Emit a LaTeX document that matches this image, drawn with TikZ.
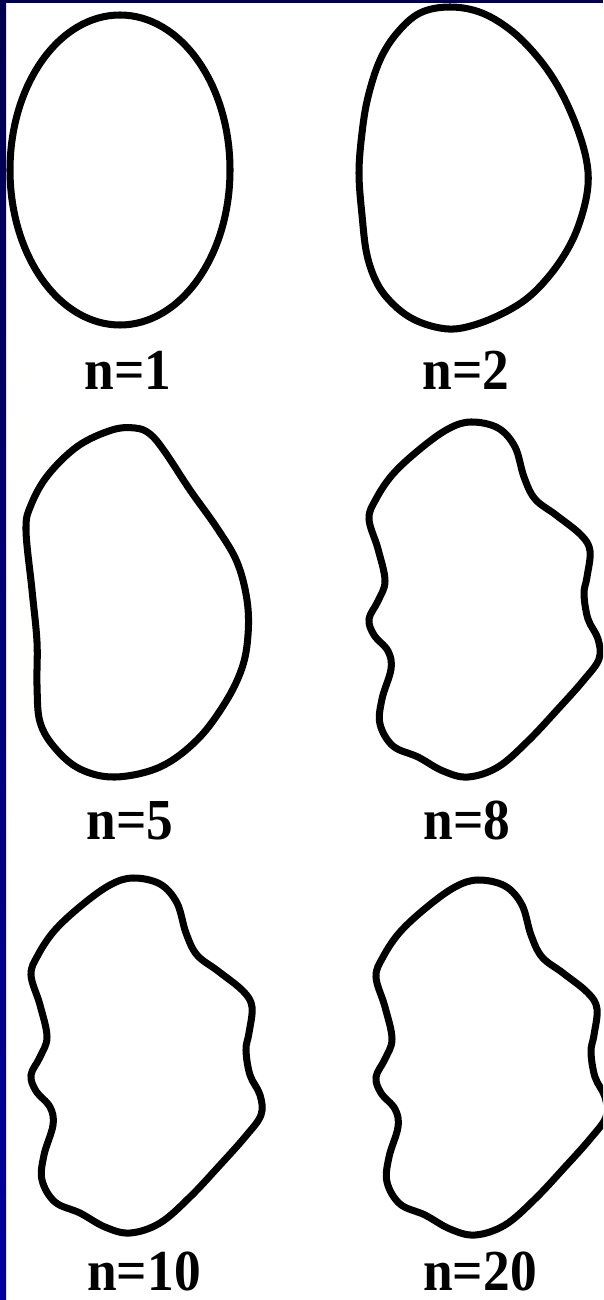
\documentclass[tikz,border=0pt]{standalone}
\usepackage{fontspec}
\setmainfont{Liberation Serif}
\usepackage{xcolor}
\usetikzlibrary{positioning}
\definecolor{navytop}{RGB}{0,0,80}
\definecolor{navybot}{RGB}{0,0,160}
\tikzset{
  curve/.style={line width=4pt,line join=round},
  lbl/.style={font=\bfseries\fontsize{33}{33}\selectfont,xscale=0.92,anchor=base,inner sep=0pt},
  wavy/.pic={\draw[curve] plot[smooth cycle,tension=0.6] coordinates {(-17,-177) (10,-171) (27,-152) (36,-122) (47,-100) (68,-84) (93,-64) (102,-48) (99,-22) (96,-5) (100,20) (110,40) (111,60) (95,82) (70,110) (40,142) (10,168) (-20,178) (-45,172) (-70,158) (-95,147) (-108,125) (-106,100) (-97,70) (-100,52) (-114,36) (-119,20) (-110,2) (-103,-18) (-110,-50) (-119,-80) (-112,-100) (-95,-125) (-68,-150) (-40,-170)};}
}
\begin{document}
\begin{tikzpicture}[x=0.02cm,y=-0.02cm]
\useasboundingbox (0,0) rectangle (603,1300);
\clip (0,0) rectangle (603,1300);
\fill[white] (0,0) rectangle (603,1300);
\shade[top color=navytop,bottom color=navybot] (0,0) rectangle (6,1300);
\fill[navytop] (0,0) rectangle (603,3);
\draw[curve] (120,170) ellipse [x radius=110,y radius=155];
\draw[curve] plot[smooth cycle,tension=0.6] coordinates {(450,7) (482,13) (513,32) (540,60) (560,90) (576,125) (586,158) (588,185) (582,215) (570,245) (550,275) (525,300) (493,318) (462,328) (440,328) (415,320) (395,306) (378,285) (367,255) (362,215) (359,173) (362,133) (368,97) (380,60) (397,33) (420,13)};
\draw[curve] plot[smooth cycle,tension=0.6] coordinates {(112,430) (135,428) (150,434) (165,452) (190,490) (217,528) (237,562) (247,600) (248,635) (242,668) (225,703) (197,740) (160,767) (115,777) (80,769) (55,748) (40,722) (37,685) (37,642) (32,590) (26,530) (31,505) (48,475) (78,446)};
\pic at (488,599) {wavy};
\pic at (150,1055) {wavy};
\pic at (495,1057) {wavy};
\foreach \x/\y/\n in {128/389/1,466/389/2,130/839/5,467/839/8,144/1290/10,480/1290/20}
  \node[lbl] (lab\n) at (\x,\y) {n=\n};
\end{tikzpicture}
\end{document}
